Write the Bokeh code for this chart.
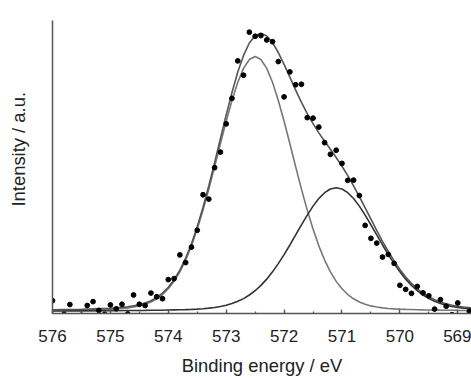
from bokeh.plotting import figure
from bokeh.models import Range1d, SingleIntervalTicker, Title
from bokeh.embed import file_html
from bokeh.resources import INLINE

# Measured points (binding energy / eV, intensity a.u.)
be_pts = [576.0, 575.8, 575.7, 575.5, 575.4, 575.3, 575.2, 575.1, 575.0, 574.9,
          574.8, 574.7, 574.6, 574.5, 574.4, 574.3, 574.2, 574.1, 574.0, 573.9,
          573.8, 573.7, 573.6, 573.5, 573.4, 573.3, 573.2, 573.1, 573.0, 572.9,
          572.8, 572.7, 572.6, 572.5, 572.4, 572.3, 572.2, 572.1, 572.0, 571.9,
          571.8, 571.7, 571.6, 571.5, 571.4, 571.3, 571.2, 571.1, 571.0, 570.9,
          570.8, 570.7, 570.6, 570.5, 570.4, 570.3, 570.2, 570.1, 570.0, 569.9,
          569.8, 569.7, 569.6, 569.5, 569.4, 569.3, 569.2, 569.1, 569.0, 568.8]
int_pts = [13.2, -0.8, 9.2, -1.8, 8.2, 12.2, 3.2, -0.8, 8.8, 4.8,
           9.5, -0.5, 19.0, 9.5, 8.2, 21.0, 17.2, 15.2, 34.8, 35.8,
           60.2, 52.3, 68.2, 85.5, 122.0, 117.5, 149.8, 165.8, 194.8, 221.0,
           259.5, 244.8, 289.0, 284.8, 285.5, 281.0, 279.2, 258.8, 222.5, 248.2,
           235.0, 235.5, 201.2, 200.7, 191.5, 175.5, 163.5, 167.7, 154.2, 136.8,
           137.0, 121.2, 90.5, 77.2, 72.3, 58.0, 60.7, 51.5, 29.0, 24.8,
           20.7, 27.8, 21.2, 18.2, 4.5, 14.2, 7.5, -1.2, 10.8, 2.2]

# Fitted curves sampled on a common energy grid
be_fit = [576.0, 575.5, 575.0, 574.7, 574.5, 574.4, 574.3, 574.2, 574.1, 574.0,
          573.9, 573.8, 573.7, 573.6, 573.5, 573.4, 573.3, 573.2, 573.1, 573.0,
          572.9, 572.8, 572.7, 572.6, 572.5, 572.4, 572.3, 572.2, 572.1, 572.0,
          571.9, 571.8, 571.7, 571.6, 571.5, 571.4, 571.3, 571.2, 571.1, 571.0,
          570.9, 570.8, 570.7, 570.6, 570.5, 570.4, 570.3, 570.2, 570.1, 570.0,
          569.9, 569.8, 569.7, 569.6, 569.5, 569.4, 569.3, 569.2, 569.1, 569.0,
          568.9, 568.76]
peak1 = [3.2, 3.65, 4.5, 5.8, 7.8, 9.5, 11.8, 15.1, 19.5, 25.4,
         33.0, 42.8, 54.9, 69.5, 86.7, 106.2, 127.8, 150.8, 174.4, 197.5,
         218.9, 237.5, 251.8, 260.9, 264.0, 260.9, 251.8, 237.5, 218.9, 197.5,
         174.4, 150.8, 127.8, 106.2, 86.7, 69.5, 54.9, 42.8, 33.0, 25.4,
         19.5, 15.1, 11.8, 9.5, 7.8, 6.65, 5.8, 5.2, 4.8, 4.5,
         4.25, 4.1, 3.9, 3.76, 3.65, 3.55, 3.45, 3.38, 3.3, 3.2,
         3.15, 3.08]
peak2 = [2.55, 2.68, 2.85, 3.05, 3.15, 3.2, 3.28, 3.35, 3.4, 3.55,
         3.7, 3.85, 4.0, 4.2, 4.5, 4.95, 5.5, 6.2, 7.2, 8.5,
         10.2, 12.5, 15.3, 19.0, 23.4, 28.9, 35.3, 42.8, 51.2, 60.5,
         70.4, 80.7, 91.1, 101.1, 110.3, 118.1, 124.1, 127.9, 129.2, 127.9,
         124.1, 118.1, 110.3, 101.1, 91.1, 80.7, 70.4, 60.5, 51.2, 42.8,
         35.3, 28.9, 23.4, 19.0, 15.3, 12.5, 10.2, 8.5, 7.2, 6.2,
         5.5, 4.75]
envelope = [3.75, 4.33, 5.35, 6.85, 8.95, 10.7, 13.1, 16.45, 20.9, 26.95,
            34.7, 44.65, 56.9, 71.7, 89.2, 109.15, 131.3, 155.0, 179.6, 204.0,
            227.1, 248.0, 265.1, 277.9, 285.4, 287.8, 285.1, 278.3, 268.1, 256.0,
            242.8, 229.5, 216.9, 205.3, 195.0, 185.6, 177.0, 168.7, 160.2, 151.3,
            141.6, 131.2, 120.1, 108.6, 96.9, 85.35, 74.2, 63.7, 54.0, 45.3,
            37.55, 31.0, 25.3, 20.76, 16.95, 14.05, 11.65, 9.88, 8.5, 7.4,
            6.65, 5.83]

FONT = "Liberation Sans"

p = figure(width=471, height=378, output_backend="svg", toolbar_location=None,
           x_range=Range1d(576, 568.763), y_range=Range1d(0, 301),
           min_border_left=52, min_border_right=0, min_border_top=20,
           min_border_bottom=57)
p.outline_line_color = None
p.grid.visible = False
p.background_fill_color = "white"
p.border_fill_color = "white"

p.line(be_fit, peak1, line_color="#777777", line_width=1.6)
p.line(be_fit, peak2, line_color="#333333", line_width=1.6)
p.line(be_fit, envelope, line_color="#555555", line_width=1.6)
p.scatter(be_pts, int_pts, size=4.8, color="black")

xa = p.xaxis[0]
xa.ticker = SingleIntervalTicker(interval=1, num_minor_ticks=2)
xa.axis_line_color = "#555555"
xa.axis_line_width = 1.5
xa.major_tick_line_color = "#555555"
xa.minor_tick_line_color = "#555555"
xa.major_tick_line_width = 1.3
xa.minor_tick_line_width = 1.3
xa.major_tick_in = 4
xa.major_tick_out = 0
xa.minor_tick_in = 2
xa.minor_tick_out = 0
xa.major_label_standoff = 16
xa.major_label_text_font = FONT
xa.major_label_text_font_size = "17px"
xa.major_label_text_color = "#222222"
xa.axis_label = "Binding energy / eV"
xa.axis_label_text_font = FONT
xa.axis_label_text_font_size = "18.4px"
xa.axis_label_text_font_style = "normal"
xa.axis_label_text_color = "#222222"
xa.axis_label_standoff = 10

ya = p.yaxis[0]
ya.ticker = []
ya.axis_line_color = "#555555"
ya.axis_line_width = 1.5
ya.major_tick_in = 0
ya.major_tick_out = 0
ya.minor_tick_in = 0
ya.minor_tick_out = 0
ya.major_label_text_font_size = "0px"
# blank axis label only reserves room so the title sits further left
ya.axis_label = " "
ya.axis_label_text_font_size = "18px"
ya.axis_label_standoff = 0

ytitle = Title(text="Intensity / a.u.", align="left", offset=107,
               vertical_align="middle", standoff=0,
               text_font=FONT, text_font_size="18.4px", text_font_style="normal",
               text_color="#222222")
p.add_layout(ytitle, "left")

open("out.html", "w").write(file_html(p, INLINE))
